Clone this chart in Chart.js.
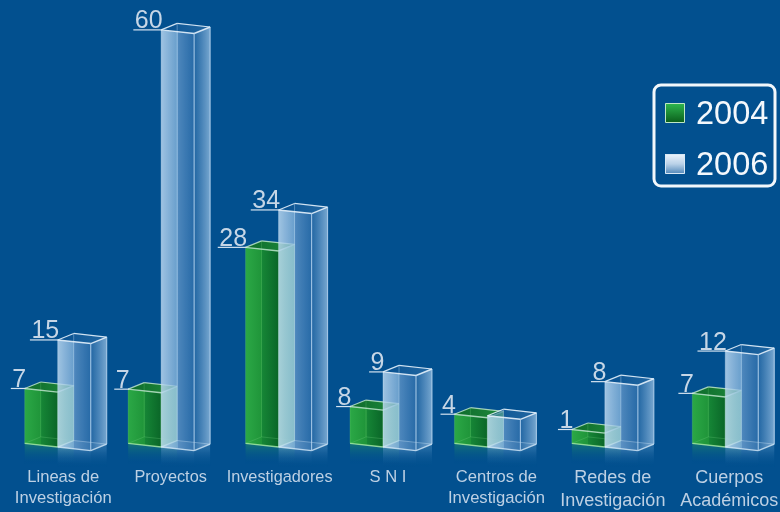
<!DOCTYPE html>
<html><head><meta charset="utf-8">
<style>html,body{margin:0;padding:0;background:#02508f}canvas{display:block}</style>
<script src="https://cdn.jsdelivr.net/npm/chart.js@4/dist/chart.umd.min.js"></script>
</head><body><canvas id="c" width="780" height="512"></canvas>
<script>
// Category labels
const categories = [["Lineas de","Investigación"],["Proyectos"],["Investigadores"],["S N I"],["Centros de","Investigación"],["Redes de","Investigación"],["Cuerpos","Académicos"]];
const seriesNames = ["2004","2006"];
// Numbers printed above the bars (the reference prints none for Centros 2006)
const printed2004 = [7,7,28,8,4,1,7];
const printed2006 = [15,60,34,9,null,8,12];
// The reference is not drawn to scale: these are the bar heights
const drawn2004 = [7.9,7.8,28.2,5.3,4.2,2,7.2];
const drawn2006 = [15.4,60,34.1,10.8,4.5,9.4,13.8];

// Layout, kept apart from the data
const BAR_NUDGE = [2,-6,0,-7,-14,-8,1];
const LABEL_NUDGE = [5.5,9.5,1,5,9,8,4];
const TICK_SIZES = [16.6,16.3,16.3,16.6,16.6,18,18];
const FONT = '"Liberation Sans", Arial, sans-serif';
const DX = 16, DY = -6.5, SLANT = 3.6;

class NudgedCategory extends Chart.CategoryScale {
  static id = 'nudgedCategory';
  static defaults = Chart.CategoryScale.defaults;
  getPixelForValue(v, i) {
    const n = typeof v === 'number' ? v : this.parse(v);
    return super.getPixelForValue(n, i) + (BAR_NUDGE[Math.round(n)] || 0);
  }
  getPixelForTick(i) {
    const t = this.ticks[i];
    return t ? super.getPixelForValue(t.value, i) + (BAR_NUDGE[t.value] || 0) + (LABEL_NUDGE[t.value] || 0) : null;
  }
}
Chart.register(NudgedCategory);

function poly(ctx, pts, fill) {
  ctx.beginPath();
  pts.forEach((p, i) => i ? ctx.lineTo(p[0], p[1]) : ctx.moveTo(p[0], p[1]));
  ctx.closePath();
  if (fill) { ctx.fillStyle = fill; ctx.fill(); }
}
function seg(ctx, a, b, color, w) {
  ctx.beginPath(); ctx.moveTo(a[0], a[1]); ctx.lineTo(b[0], b[1]);
  ctx.strokeStyle = color; ctx.lineWidth = w; ctx.stroke();
}
function hGrad(ctx, x0, x1, stops) {
  const g = ctx.createLinearGradient(x0, 0, x1, 0);
  stops.forEach(s => g.addColorStop(s[0], s[1]));
  return g;
}
function vGrad(ctx, y0, y1, stops) {
  const g = ctx.createLinearGradient(0, y0, 0, y1);
  stops.forEach(s => g.addColorStop(s[0], s[1]));
  return g;
}
const THEMES = [
  { reflect:'rgba(40,160,90,0.38)', sideReflect:'rgba(40,160,90,0.25)',
    back:'rgba(8,95,35,0.9)', floor:'rgba(70,185,90,0.9)',
    front:[[0,'#2ba846'],[0.5,'#1f9439'],[0.5,'#168636'],[1,'#0a6628']],
    side:[[0,'#2f9d50'],[1,'#77c98c']],
    top:[[0,'#0d6a2b'],[1,'#1f8a3c']],
    edge:'rgba(200,238,212,0.8)', inner:'rgba(120,210,130,0.25)', rEdge:'rgba(120,210,130,0.25)', low:'rgba(170,235,170,0.8)' },
  { reflect:'rgba(150,195,235,0.32)', sideReflect:'rgba(150,195,235,0.22)',
    back:'rgba(40,110,170,0.2)', floor:'rgba(205,228,245,0.22)',
    front:[[0,'rgba(190,218,242,0.84)'],[0.5,'rgba(140,185,225,0.74)'],[0.5,'rgba(115,162,210,0.66)'],[1,'rgba(60,120,180,0.6)']],
    side:[[0,'rgba(45,110,170,0.7)'],[1,'rgba(150,190,225,0.78)']],
    top:[[0,'rgba(10,80,145,0.5)'],[1,'rgba(60,120,175,0.5)']],
    edge:'rgba(230,242,252,0.9)', inner:'rgba(215,235,250,0.35)', rEdge:'rgba(195,222,246,0.75)', low:'rgba(215,235,250,0.8)' }
];
function drawBar(ctx, el, th, oL, oR) {
  const L = el.x - el.width / 2, R = el.x + el.width / 2, t = el.y, b = el.base;
  const fl = [L, b + oL], fr = [R, b + oR], br = [R + DX, b + oR + DY], bl = [L + DX, b + oL + DY];
  const tfl = [L, t + oL], tfr = [R, t + oR], tbr = [R + DX, t + oR + DY], tbl = [L + DX, t + oL + DY];
  const RH = 17;
  poly(ctx, [fl, fr, [R, b + oR + RH], [L, b + oR + RH]], vGrad(ctx, b + oR - 2, b + oR + RH, [[0, th.reflect], [1, 'rgba(2,80,143,0)']]));
  poly(ctx, [fr, br, [R + DX, b + oR + RH], [R, b + oR + RH]], vGrad(ctx, b + oR - 2, b + oR + RH, [[0, th.sideReflect], [1, 'rgba(2,80,143,0)']]));
  poly(ctx, [bl, br, tbr, tbl], th.back);
  poly(ctx, [fl, fr, br, bl], th.floor);
  poly(ctx, [fr, br, tbr, tfr], hGrad(ctx, R, R + DX, th.side));
  poly(ctx, [fl, fr, tfr, tfl], hGrad(ctx, L, R, th.front));
  poly(ctx, [tfl, tfr, tbr, tbl], hGrad(ctx, L, R + DX, th.top));
  ctx.lineJoin = 'round';
  seg(ctx, tbl, bl, th.inner, 1);
  seg(ctx, bl, fl, th.inner, 1);
  seg(ctx, bl, br, th.inner, 1);
  seg(ctx, fl, fr, th.low, 1.4);
  seg(ctx, fr, br, th.low, 1.4);
  seg(ctx, tfl, tfr, th.edge, 1.4);
  seg(ctx, tfr, tbr, th.edge, 1.4);
  seg(ctx, tbr, tbl, th.edge, 1.2);
  seg(ctx, tbl, tfl, th.edge, 1.2);
  seg(ctx, tfr, fr, th.rEdge, 1.2);
  seg(ctx, tbr, br, th.rEdge, 1.1);
  seg(ctx, tfl, fl, th.inner, 1);
}
function roundRect(ctx, x, y, w, h, r) {
  ctx.beginPath();
  ctx.moveTo(x + r, y); ctx.arcTo(x + w, y, x + w, y + h, r); ctx.arcTo(x + w, y + h, x, y + h, r);
  ctx.arcTo(x, y + h, x, y, r); ctx.arcTo(x, y, x + w, y, r); ctx.closePath();
}
const bars3d = {
  id: 'bars3d',
  afterDatasetsDraw(chart) {
    const ctx = chart.ctx;
    const printed = [printed2004, printed2006];
    const offs = [[-SLANT, 0], [0, SLANT]];
    ctx.save();
    categories.forEach((_, i) => {
      [0, 1].forEach(d => {
        drawBar(ctx, chart.getDatasetMeta(d).data[i], THEMES[d], offs[d][0], offs[d][1]);
      });
    });
    ctx.font = '25px ' + FONT;
    ctx.textAlign = 'right';
    ctx.textBaseline = 'alphabetic';
    categories.forEach((_, i) => {
      [0, 1].forEach(d => {
        if (printed[d][i] === null) return;
        const el = chart.getDatasetMeta(d).data[i];
        const L = el.x - el.width / 2, y = el.y + offs[d][0];
        const s = String(printed[d][i]);
        const w = ctx.measureText(s).width;
        ctx.fillStyle = '#c6d6e6';
        ctx.fillText(s, L + 1.5, y - 1.5);
        seg(ctx, [L - w, y], [L + 1, y], '#d5e3f0', 1.2);
      });
    });
    const lx = 654, ly = 85, lw = 121, lh = 101;
    ctx.lineWidth = 3; ctx.strokeStyle = '#f2f7fb';
    roundRect(ctx, lx, ly, lw, lh, 7); ctx.stroke();
    const sw = [
      { y: 103, stops: [[0, '#2fb84f'], [1, '#0a5c1a']], border: '#bfe6c6' },
      { y: 154, stops: [[0, '#eef5fc'], [0.5, '#b9d1e8'], [1, '#4f86b8']], border: '#d8e8f5' }
    ];
    ctx.textAlign = 'left';
    ctx.textBaseline = 'alphabetic';
    ctx.font = '32.5px ' + FONT;
    sw.forEach((s, k) => {
      ctx.fillStyle = vGrad(ctx, s.y, s.y + 20, s.stops);
      ctx.fillRect(665, s.y, 20, 20);
      ctx.lineWidth = 1; ctx.strokeStyle = s.border;
      ctx.strokeRect(665.5, s.y + 0.5, 19, 19);
      ctx.fillStyle = '#f4f8fc';
      ctx.fillText(chart.data.datasets[k].label, 696, s.y + 21);
    });
    ctx.restore();
  }
};

new Chart(document.getElementById('c'), {
  type: 'bar',
  data: {
    labels: categories,
    datasets: [
      { label: seriesNames[0], data: drawn2004, backgroundColor: 'rgba(0,0,0,0)', barThickness: 33 },
      { label: seriesNames[1], data: drawn2006, backgroundColor: 'rgba(0,0,0,0)', barThickness: 33 }
    ]
  },
  options: {
    responsive: false, animation: false,
    layout: { padding: 0 },
    plugins: { legend: { display: false }, tooltip: { enabled: false } },
    scales: {
      x: {
        type: 'nudgedCategory',
        grid: { display: false, drawTicks: false }, border: { display: false },
        afterFit(s) { s.height = 65; s.paddingLeft = 0; s.paddingRight = 0; },
        ticks: {
          autoSkip: false, maxRotation: 0, minRotation: 0, padding: 20, color: '#bdd0e4',
          font: c => ({ family: FONT, size: TICK_SIZES[c.index] || 16, lineHeight: 1.25 })
        }
      },
      y: { display: false, min: 0, max: 64.3 }
    }
  },
  plugins: [bars3d]
});
</script></body></html>
